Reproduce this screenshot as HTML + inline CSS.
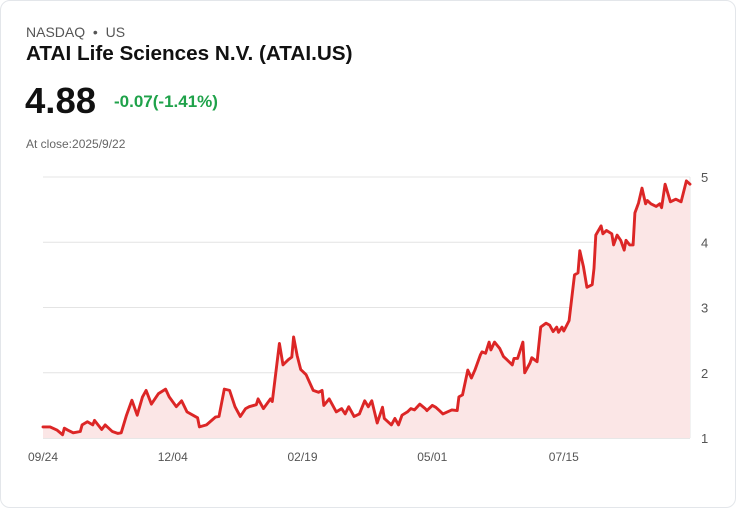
<!DOCTYPE html>
<html><head><meta charset="utf-8">
<style>
html,body{margin:0;padding:0;background:#fff;}
body{width:736px;height:508px;overflow:hidden;font-family:"Liberation Sans",sans-serif;}
.card{position:absolute;left:0;top:0;width:734px;height:506px;border:1px solid #e3e6ea;border-radius:10px;}
.ex{position:absolute;left:25px;top:23px;font-size:14px;color:#555;}
.title{position:absolute;left:25px;top:41px;font-size:20.7px;font-weight:bold;color:#111;}
.price{position:absolute;left:24px;top:79px;font-size:36.5px;font-weight:bold;color:#111;}
.chg{position:absolute;left:113px;top:91px;font-size:17px;font-weight:bold;color:#1fa24a;}
.close{position:absolute;left:25px;top:136px;font-size:12px;color:#666;}
svg{position:absolute;left:0;top:0;}
</style></head>
<body>
<div class="card">
<div class="ex">NASDAQ &nbsp;•&nbsp; US</div>
<div class="title">ATAI Life Sciences N.V. (ATAI.US)</div>
<div class="price">4.88</div>
<div class="chg">-0.07(-1.41%)</div>
<div class="close">At close:2025/9/22</div>
</div>
<svg id="chart" width="736" height="508"></svg>
<script>
const days=[0,4,8,11,12,14,17,21,22,25,28,29,33,35,39,42,44,47,50,53,56,58,61,65,69,71,75,78,81,87,88,92,97,99,102,105,108,111,114,116,120,121,124,128,129,133,135,138,140,141,143,145,148,152,155,157,158,161,165,168,170,172,175,178,181,183,185,188,191,192,196,198,200,202,205,207,209,212,215,216,219,221,223,225,230,233,234,236,239,241,243,246,247,249,251,252,254,257,259,261,264,265,267,270,271,274,275,278,280,283,285,287,289,290,292,293,296,299,301,302,304,306,309,310,311,314,315,317,320,321,323,325,327,328,330,332,333,335,337,339,340,342,345,347,348,350,353,356,359,362,364];
const prices=[1.17,1.17,1.12,1.05,1.15,1.12,1.08,1.10,1.2,1.25,1.2,1.27,1.13,1.2,1.1,1.07,1.08,1.35,1.58,1.35,1.63,1.73,1.52,1.68,1.75,1.63,1.48,1.57,1.4,1.31,1.17,1.2,1.32,1.33,1.75,1.73,1.48,1.33,1.45,1.48,1.51,1.6,1.45,1.6,1.56,2.45,2.12,2.2,2.24,2.55,2.26,2.05,1.97,1.73,1.7,1.73,1.5,1.6,1.4,1.45,1.37,1.48,1.33,1.37,1.57,1.48,1.57,1.23,1.47,1.3,1.2,1.3,1.2,1.35,1.4,1.45,1.43,1.52,1.45,1.42,1.5,1.47,1.42,1.37,1.43,1.42,1.63,1.66,2.04,1.92,2.04,2.27,2.32,2.3,2.47,2.35,2.47,2.37,2.25,2.2,2.12,2.22,2.22,2.47,2.0,2.15,2.23,2.17,2.7,2.76,2.73,2.63,2.7,2.62,2.7,2.64,2.8,3.5,3.53,3.87,3.63,3.31,3.35,3.6,4.11,4.25,4.13,4.18,4.13,3.96,4.11,4.03,3.88,4.03,3.96,3.96,4.45,4.6,4.83,4.59,4.64,4.59,4.55,4.59,4.53,4.89,4.62,4.66,4.62,4.94,4.89];
const yTicks=[1,2,3,4,5];
const xTickDays=[0,73,146,219,293];
const xTickLabels=["09/24","12/04","02/19","05/01","07/15"];

const X0=43,X1=690,Y0=438,Y1=177;
const xs=d=>X0+(d-0)/(364-0)*(X1-X0);
const ys=v=>Y0-(v-1)/(5-1)*(Y0-Y1);
const NS="http://www.w3.org/2000/svg";
const svg=document.getElementById('chart');
function mk(tag,attrs){const e=document.createElementNS(NS,tag);for(const k in attrs)e.setAttribute(k,attrs[k]);svg.appendChild(e);return e;}
yTicks.forEach(t=>{
  const l=mk('line',{x1:X0,x2:X1,y1:ys(t),y2:ys(t),stroke:'#e4e4e4','stroke-width':1});
  
  
  const tx=mk('text',{x:701,y:ys(t)+5,'font-size':13,fill:'#555','font-family':'Liberation Sans, sans-serif'});
  tx.textContent=t;
  
  
});
const ax=mk('line',{x1:X1,x2:X1,y1:Y1,y2:Y0,stroke:'#e4e4e4','stroke-width':1});


const bx=mk('line',{x1:X0,x2:X1,y1:Y0,y2:Y0,stroke:'#cfcfcf','stroke-width':1});


xTickDays.forEach((d,i)=>{
  const tx=mk('text',{x:xs(d),y:461,'font-size':12,fill:'#555','text-anchor':'middle','font-family':'Liberation Sans, sans-serif'});
  tx.textContent=xTickLabels[i];
  
  
});
let pts=days.map((d,i)=>xs(d).toFixed(1)+','+ys(prices[i]).toFixed(1));
const area=mk('path',{d:'M'+xs(days[0])+','+Y0+' L'+pts.join(' L')+' L'+xs(days[days.length-1])+','+Y0+' Z',fill:'#fbe6e6',stroke:'none'});


const line=mk('path',{d:'M'+pts.join(' L'),fill:'none',stroke:'#dc2626','stroke-width':2.9,'stroke-linejoin':'round','stroke-linecap':'round'});


</script>
</body></html>
